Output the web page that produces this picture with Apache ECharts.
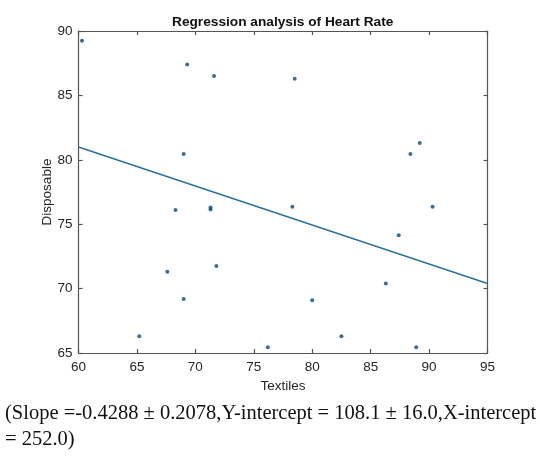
<!DOCTYPE html>
<html>
<head>
<meta charset="utf-8">
<script src="https://cdn.jsdelivr.net/npm/echarts@6/dist/echarts.min.js"></script>
<style>
  html, body { margin: 0; padding: 0; background: #ffffff; }
  #chart { width: 540px; height: 456px; }
</style>
</head>
<body>
<div id="chart"></div>
<script>
// Observations: Textiles (x) vs Disposable (y)
const textiles = [60.3, 69.3, 71.6, 78.5, 69.0, 88.4, 89.2, 68.3, 71.3, 71.3, 78.3, 87.4, 90.3,
                  67.6, 71.8, 69.0, 80.0, 86.3, 65.2, 76.2, 82.5, 88.9];
const disposable = [89.25, 87.4, 86.5, 86.3, 80.45, 80.45, 81.3, 76.1, 76.15, 76.3, 76.35, 74.15, 76.35,
                    71.3, 71.75, 69.2, 69.1, 70.4, 66.3, 65.45, 66.3, 65.45];

// Fitted regression line end points
const fitX = [60, 95];
const fitY = [81.0, 70.4];

// Axis ranges and ticks
const xTicks = [60, 65, 70, 75, 80, 85, 90, 95];
const yTicks = [65, 70, 75, 80, 85, 90];

const captionLines = [
  '(Slope =-0.4288 \u00b1 0.2078,Y-intercept = 108.1 \u00b1 16.0,X-intercept',
  '= 252.0)'
];

const points = textiles.map((x, i) => [x, disposable[i]]);
const fitLine = fitX.map((x, i) => [x, fitY[i]]);

const axisColor = '#555555';
const labelColor = '#262626';
const sans = 'Liberation Sans, Arial, sans-serif';

function xAxisDef(pos, showLabels) {
  return {
    type: 'value', position: pos,
    min: xTicks[0], max: xTicks[xTicks.length - 1], interval: 5,
    axisLine: { show: true, onZero: false, lineStyle: { color: axisColor, width: 1.2 } },
    axisTick: { show: true, inside: true, length: 4, lineStyle: { color: axisColor, width: 1.2 } },
    axisLabel: { show: showLabels, color: labelColor, fontFamily: sans, fontSize: 13.5, margin: 7 },
    splitLine: { show: false },
    name: showLabels ? 'Textiles' : '',
    nameLocation: 'middle', nameGap: 26,
    nameTextStyle: { color: labelColor, fontFamily: sans, fontSize: 13.5 }
  };
}
function yAxisDef(pos, showLabels) {
  return {
    type: 'value', position: pos,
    min: yTicks[0], max: yTicks[yTicks.length - 1], interval: 5,
    axisLine: { show: true, onZero: false, lineStyle: { color: axisColor, width: 1.2 } },
    axisTick: { show: true, inside: true, length: 4, lineStyle: { color: axisColor, width: 1.2 } },
    axisLabel: { show: showLabels, color: labelColor, fontFamily: sans, fontSize: 13.5, margin: 6 },
    splitLine: { show: false },
    name: showLabels ? 'Disposable' : '',
    nameLocation: 'middle', nameGap: 24, nameMoveOverlap: false,
    nameTextStyle: { color: labelColor, fontFamily: sans, fontSize: 13.5 }
  };
}

const chart = echarts.init(document.getElementById('chart'), null, { renderer: 'canvas' });
chart.setOption({
  backgroundColor: '#ffffff',
  animation: false,
  title: {
    text: 'Regression analysis of Heart Rate',
    left: 167, top: 10,
    textStyle: { color: '#111111', fontFamily: sans, fontSize: 13.7, fontWeight: 'bold' }
  },
  grid: { left: 78.5, top: 31, width: 409, height: 322 },
  xAxis: [xAxisDef('bottom', true), xAxisDef('top', false)],
  yAxis: [yAxisDef('left', true), yAxisDef('right', false)],
  series: [
    {
      type: 'line', data: fitLine, xAxisIndex: 0, yAxisIndex: 0,
      showSymbol: false, lineStyle: { color: '#2c7199', width: 1.6 }, z: 2
    },
    {
      type: 'scatter', data: points, xAxisIndex: 0, yAxisIndex: 0,
      symbol: 'circle', symbolSize: 4,
      itemStyle: { color: '#0b4a78' }, z: 3
    }
  ],
  graphic: captionLines.map((t, i) => ({
    type: 'text', left: 5, top: 403 + i * 26,
    style: { text: t, fill: '#111111', font: '20.5px "Liberation Serif", "Times New Roman", serif' }
  }))
});
</script>
</body>
</html>
